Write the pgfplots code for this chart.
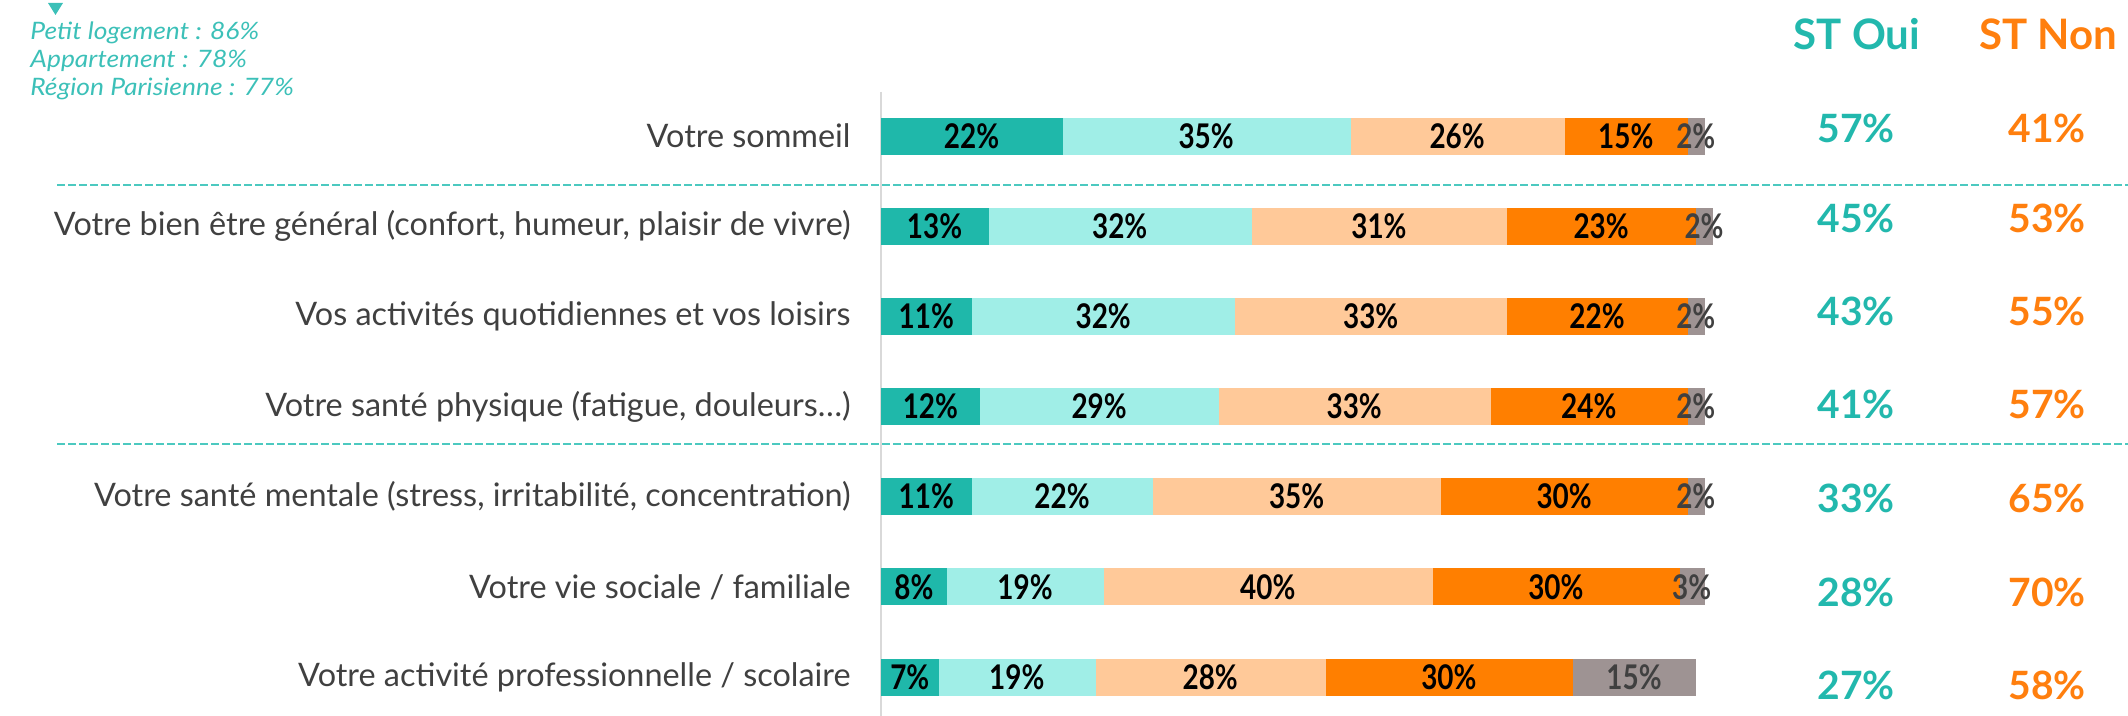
\documentclass[border=0pt]{standalone}
\usepackage{fontspec}
\setmainfont{Lato}
\newfontfamily\labfont{Lato}
\newfontfamily\barfont{Lato}[FakeStretch=0.82]
\newfontfamily\annfont{Lato}[FakeStretch=1.1]
\usepackage{pgfplots}
\usepackage{pgfplotstable}
\pgfplotsset{compat=1.18, /pgf/number format/assume math mode=true}
\definecolor{c1}{HTML}{1FB8AA}
\definecolor{c2}{HTML}{A0EEE7}
\definecolor{c3}{HTML}{FFC999}
\definecolor{c4}{HTML}{FF7F00}
\definecolor{c5}{HTML}{9E9393}
\definecolor{stteal}{HTML}{22B8AD}
\definecolor{storange}{HTML}{FF7F0E}
\definecolor{labgrey}{HTML}{404040}
\definecolor{dashteal}{HTML}{4CC9C0}
\definecolor{annteal}{HTML}{3CC0B8}
\definecolor{vline}{HTML}{D9D9D9}
% values and label centres (cumulative mid-points) of each segment
\pgfplotstableread{
y a b c d e ma mb mc md me
6 22 35 26 15 2 11 39.5 70 90.5 99
5 13 32 31 23 2 6.5 29 60.5 87.5 100
4 11 32 33 22 2 5.5 27 59.5 87 99
3 12 29 33 24 2 6 26.5 57.5 86 99
2 11 22 35 30 2 5.5 22 50.5 83 99
1 8 19 40 30 3 4 17.5 47 82 98.5
0 7 19 28 30 15 3.5 16.5 40 69 91.5
}\data
\pgfplotstableread{
x y v
118.5 6.089 57
118.5 5.091 45
118.5 4.059 43
118.5 3.028 41
118.5 1.985 33
118.5 0.943 28
118.5 -0.089 27
}\stoui
\pgfplotstableread{
x y v
141.7 6.089 41
141.7 5.091 53
141.7 4.059 55
141.7 3.028 57
141.7 1.985 65
141.7 0.943 70
141.7 -0.089 58
}\stnon
\begin{document}
\begin{tikzpicture}
\useasboundingbox (0,-358pt) rectangle (1064pt,0pt);
% dashed separators
\draw[dashteal, line width=0.75pt, dash pattern=on 4pt off 1.5pt] (28.5pt,-92.5pt) -- (1064pt,-92.5pt);
\draw[dashteal, line width=0.75pt, dash pattern=on 4pt off 1.5pt] (28.5pt,-222pt) -- (1064pt,-222pt);
% vertical axis line
\draw[line width=1pt, vline] (440.5pt,-46pt) -- (440.5pt,-358pt);
\begin{axis}[
  at={(440.5pt,-361.04pt)}, anchor=south west,
  scale only axis, width=411.5pt, height=315.58pt,
  xmin=0, xmax=100, ymin=-0.5, ymax=6.5,
  xbar stacked, bar width=18pt,
  hide x axis,
  y axis line style={draw=none},
  ytick={0,1,2,3,4,5,6},
  yticklabels={{Votre activité professionnelle / scolaire},
    {Votre vie sociale / familiale},
    {Votre santé mentale (stress, irritabilité, concentration)},
    {Votre santé physique (fatigue, douleurs\ldots)},
    {Vos activités quotidiennes et vos loisirs},
    {Votre bien être général (confort, humeur, plaisir de vivre)},
    {Votre sommeil}},
  major tick length=0pt,
  ytick style={draw=none},
  yticklabel style={font=\labfont\fontsize{16.2}{18}\selectfont, text=labgrey, inner sep=0pt, xshift=-15pt},
  clip=false,
]
\addplot[fill=c1, draw=c1] table[x=a,y=y]{\data};
\addplot[fill=c2, draw=c2] table[x=b,y=y]{\data};
\addplot[fill=c3, draw=c3] table[x=c,y=y]{\data};
\addplot[fill=c4, draw=c4] table[x=d,y=y]{\data};
\addplot[fill=c5, draw=c5] table[x=e,y=y]{\data};
\end{axis}
% segment labels
\begin{axis}[
  at={(440.5pt,-361.04pt)}, anchor=south west,
  scale only axis, width=411.5pt, height=315.58pt,
  xmin=0, xmax=100, ymin=-0.5, ymax=6.5,
  hide axis, clip=false,
  point meta=explicit,
  nodes near coords={\pgfmathprintnumber{\pgfplotspointmeta}\%},
  nodes near coords style={anchor=center, inner sep=0pt, font=\barfont\bfseries\fontsize{17}{19}\selectfont, text=black},
]
\addplot[draw=none, mark=none] table[x=ma,y=y,meta=a]{\data};
\addplot[draw=none, mark=none] table[x=mb,y=y,meta=b]{\data};
\addplot[draw=none, mark=none] table[x=mc,y=y,meta=c]{\data};
\addplot[draw=none, mark=none] table[x=md,y=y,meta=d]{\data};
\addplot[draw=none, mark=none, nodes near coords style={text=labgrey}] table[x=me,y=y,meta=e]{\data};
\end{axis}
% ST columns
\begin{axis}[
  at={(440.5pt,-361.04pt)}, anchor=south west,
  scale only axis, width=411.5pt, height=315.58pt,
  xmin=0, xmax=100, ymin=-0.5, ymax=6.5,
  hide axis, clip=false,
  point meta=explicit,
  nodes near coords={\pgfmathprintnumber{\pgfplotspointmeta}\%},
]
\addplot[draw=none, mark=none, nodes near coords style={anchor=center, text=stteal, font=\bfseries\fontsize{19.5}{22}\selectfont}] table[x=x,y=y,meta=v]{\stoui};
\addplot[draw=none, mark=none, nodes near coords style={anchor=center, text=storange, font=\bfseries\fontsize{19.5}{22}\selectfont}] table[x=x,y=y,meta=v]{\stnon};
\end{axis}
\node[text=stteal, font=\bfseries\fontsize{21}{24}\selectfont] at (928.5pt,-17pt) {ST Oui};
\node[text=storange, font=\bfseries\fontsize{21}{24}\selectfont] at (1024pt,-17pt) {ST Non};
% annotation
\fill[annteal] (24pt,-1.5pt) -- (31.5pt,-1.5pt) -- (27.75pt,-7.5pt) -- cycle;
\node[anchor=base west, inner sep=0pt, text=annteal, font=\annfont\itshape\fontsize{12}{14}\selectfont] at (15pt,-20pt) {Petit logement : 86\%};
\node[anchor=base west, inner sep=0pt, text=annteal, font=\annfont\itshape\fontsize{12}{14}\selectfont] at (15pt,-34pt) {Appartement : 78\%};
\node[anchor=base west, inner sep=0pt, text=annteal, font=\annfont\itshape\fontsize{12}{14}\selectfont] at (15pt,-48pt) {Région Parisienne : 77\%};
\end{tikzpicture}
\end{document}
